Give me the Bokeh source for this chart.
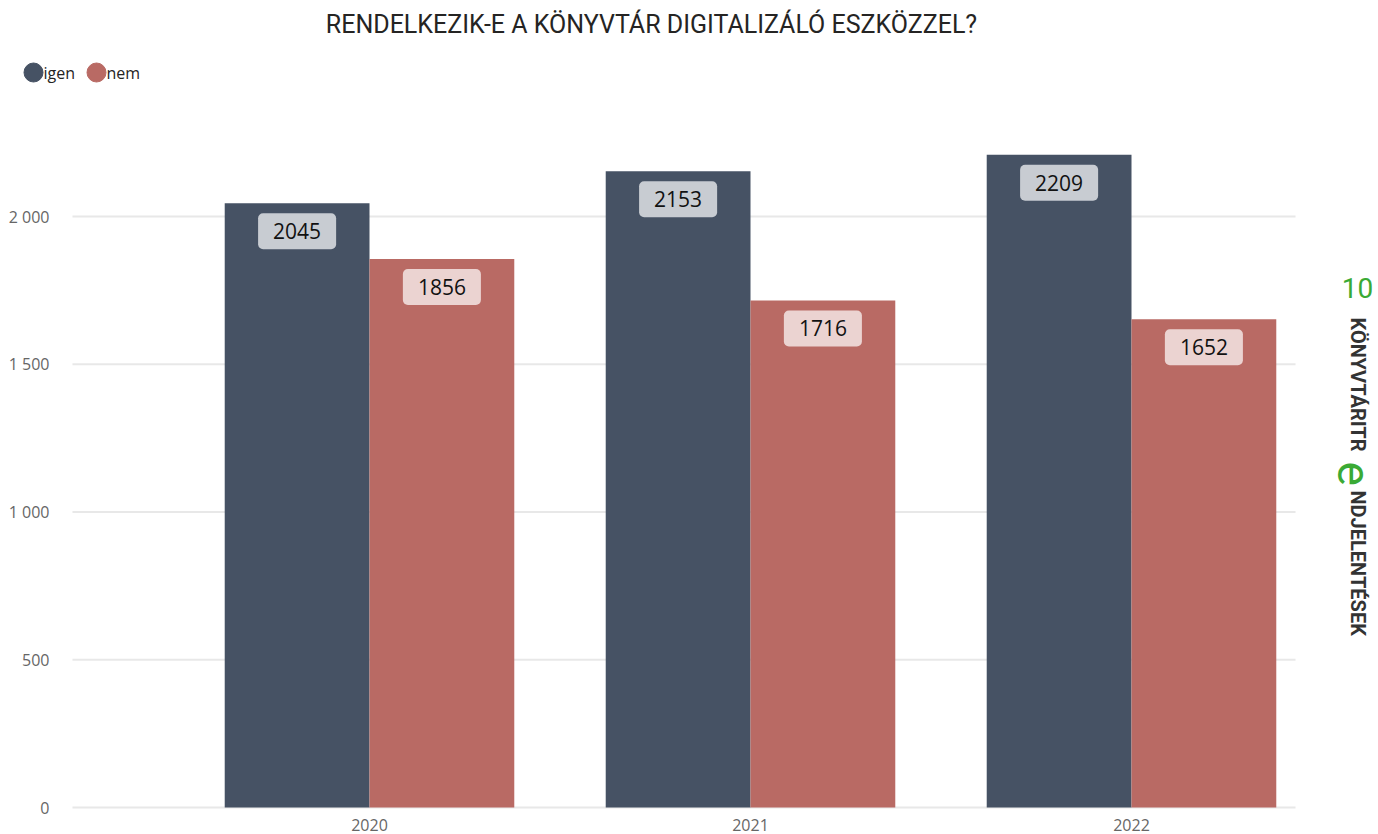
import math
from bokeh.plotting import figure
from bokeh.models import Range1d, FixedTicker, LinearAxis, ColumnDataSource
from bokeh.core.properties import value
from bokeh.embed import file_html
from bokeh.resources import INLINE

# ---- data ----
years = ["2020", "2021", "2022"]
series = ["igen", "nem"]
igen = [2045, 2153, 2209]
nem = [1856, 1716, 1652]
y_ticks = [0, 500, 1000, 1500, 2000]
y_tick_labels = ["0", "500", "1 000", "1 500", "2 000"]
title_text = "RENDELKEZIK-E A KÖNYVTÁR DIGITALIZÁLÓ ESZKÖZZEL?"
logo_num = "10"
logo_a = "KÖNYVTÁRITR"
logo_e = "e"
logo_b = "NDJELENTÉSEK"

# ---- colours / layout ----
c_igen = "#465264"
c_nem = "#b96a64"
c_igen_lbl = "#c8ccd2"
c_nem_lbl = "#ebd3d1"
green = "#3aaa35"
W, H = 1378, 834
SX = 381.0            # px per category
SY = 591.0 / 2000     # px per unit
X0 = -369 / SX
X1 = X0 + W / SX
Y0 = -(H - 807) / SY
Y1 = Y0 + H / SY

def px_x(cx):
    return X0 + cx / SX

def px_y(cy):
    return Y0 + (H - cy) / SY

p = figure(width=W, height=H, output_backend="svg", toolbar_location=None,
           x_range=Range1d(X0, X1), y_range=Range1d(Y0, Y1),
           x_axis_location=None, y_axis_location=None,
           min_border_left=0, min_border_right=0, min_border_top=0, min_border_bottom=0,
           background_fill_color="white", border_fill_color="white")
p.outline_line_color = None
p.xgrid.grid_line_color = None
p.ygrid.grid_line_color = None

# grid lines
p.segment(x0=[px_x(72)] * len(y_ticks), x1=[px_x(1295)] * len(y_ticks),
          y0=y_ticks, y1=y_ticks, line_color="#e8e8e8", line_width=2)

idx = list(range(len(years)))
bw = 0.38
src = ColumnDataSource(dict(
    x=idx,
    x_igen=[i - bw / 2 for i in idx],
    x_nem=[i + bw / 2 for i in idx],
    igen=igen, nem=nem,
    igen_t=[str(v) for v in igen], nem_t=[str(v) for v in nem],
))

p.vbar(x="x_igen", top="igen", width=bw, source=src, fill_color=c_igen, line_color=None)
p.vbar(x="x_nem", top="nem", width=bw, source=src, fill_color=c_nem, line_color=None)

common = dict(text_font=value("Open Sans"), text_font_size="21px", text_color="#111111",
              text_align="center", text_baseline="middle", y_offset=28,
              border_radius=5, padding=(15, 10), border_line_color=None)
p.text(x="x_igen", y="igen", text="igen_t", source=src, background_fill_color=c_igen_lbl, **common)
p.text(x="x_nem", y="nem", text="nem_t", source=src, background_fill_color=c_nem_lbl, **common)

# axes (fixed inside the full-size frame)
xax = LinearAxis(ticker=FixedTicker(ticks=idx), fixed_location=0,
                 major_label_overrides={i: y for i, y in zip(idx, years)})
yax = LinearAxis(ticker=FixedTicker(ticks=y_ticks), fixed_location=px_x(72),
                 major_label_overrides={t: l for t, l in zip(y_ticks, y_tick_labels)})
for ax in (xax, yax):
    ax.axis_line_color = None
    ax.major_tick_line_color = None
    ax.minor_tick_line_color = None
    ax.major_label_text_font = "Open Sans"
    ax.major_label_text_font_size = "16px"
    ax.major_label_text_color = "#666666"
xax.major_label_standoff = 5
yax.major_label_standoff = 17
p.add_layout(xax, "below")
p.add_layout(yax, "left")

# title
p.text(x=[px_x(651)], y=[px_y(24)], text=[title_text], text_align="center",
       text_baseline="middle", text_font=value("Roboto"), text_font_size="25px",
       text_color="#252423")

# legend (drawn by hand so the dots are as large as in the reference)
p.scatter(x=[px_x(33), px_x(96)], y=[px_y(72)] * 2, marker="circle", size=19,
          color=[c_igen, c_nem])
p.text(x=[px_x(43), px_x(106)], y=[px_y(72)] * 2, text=series, text_align="left",
       text_baseline="middle", text_font=value("Open Sans"), text_font_size="16px",
       text_color="#252423")

# logo
p.text(x=[px_x(1357)], y=[px_y(287)], text=[logo_num], text_align="center",
       text_baseline="middle", text_font=value("Roboto"), text_font_size="28px",
       text_color=green)
p.text(x=[px_x(1357), px_x(1357)], y=[px_y(317), px_y(490)], text=[logo_a, logo_b],
       angle=-math.pi / 2, text_align="left", text_baseline="alphabetic",
       text_font=value("Roboto"), text_font_style="bold", text_font_size="20px",
       text_color="#333333")
p.text(x=[px_x(1354)], y=[px_y(461)], text=[logo_e], angle=-math.pi / 2,
       text_align="left", text_baseline="alphabetic", text_font=value("Roboto"),
       text_font_size="46px", text_color=green)

open("out.html", "w").write(file_html(p, INLINE))
